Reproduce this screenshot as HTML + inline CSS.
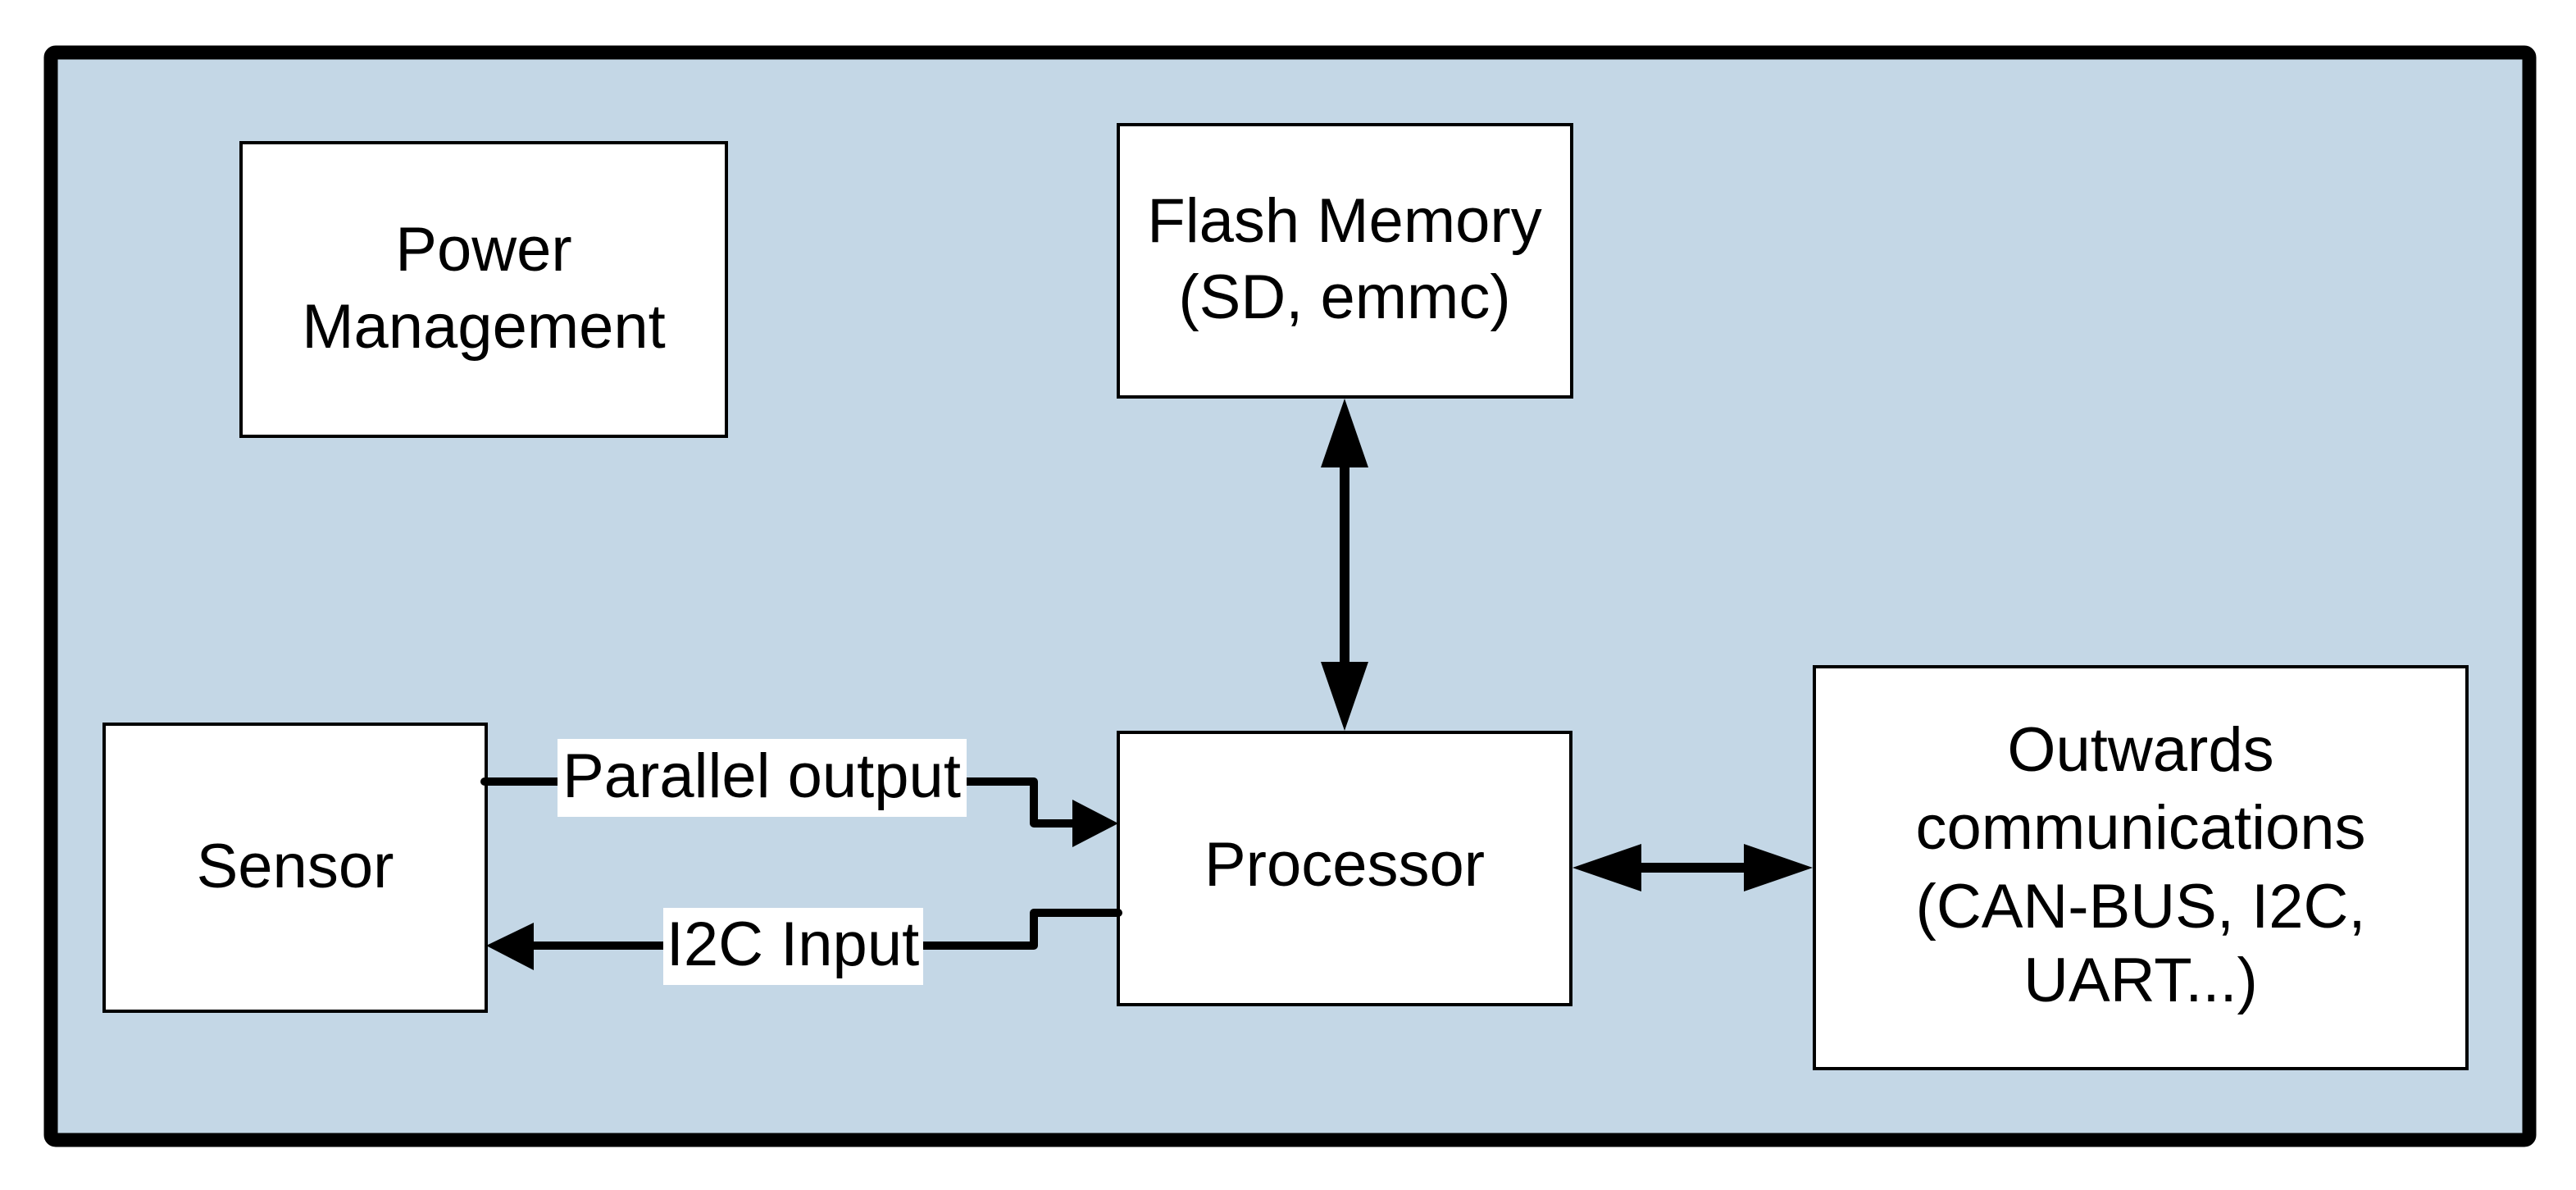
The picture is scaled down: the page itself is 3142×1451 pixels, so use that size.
<!DOCTYPE html>
<html><head><meta charset="utf-8"><style>
html,body{margin:0;padding:0;background:#fff;}
svg{display:block;}
text{font-family:"Liberation Sans",Arial,sans-serif;font-size:76px;fill:#000;}
</style></head><body>
<svg width="3142" height="1451" viewBox="0 0 3142 1451" xmlns="http://www.w3.org/2000/svg">
<rect x="62" y="64" width="3023" height="1326" rx="6" fill="#c4d7e6" stroke="#000" stroke-width="17"/>
<g fill="#fff" stroke="#000" stroke-width="4">
<rect x="294" y="174" width="592" height="358"/>
<rect x="1364" y="152" width="553" height="332"/>
<rect x="1364" y="893" width="552" height="332"/>
<rect x="127" y="883" width="466" height="350"/>
<rect x="2213" y="813" width="796" height="490"/>
</g>
<g text-anchor="middle">
<text x="590" y="330">Power</text>
<text x="590" y="424">Management</text>
<text x="1640" y="295">Flash Memory</text>
<text x="1640" y="388">(SD, emmc)</text>
<text x="1640" y="1080">Processor</text>
<text x="360" y="1082">Sensor</text>
<text x="2611" y="940">Outwards</text>
<text x="2611" y="1035">communications</text>
<text x="2611" y="1131">(CAN-BUS, I2C,</text>
<text x="2611" y="1221">UART...)</text>
</g>
<!-- vertical arrow -->
<line x1="1640" y1="560" x2="1640" y2="820" stroke="#000" stroke-width="12"/>
<polygon points="1640,486 1611,570 1669,570" fill="#000"/>
<polygon points="1640,891 1611,807 1669,807" fill="#000"/>
<!-- horizontal arrow -->
<line x1="1990" y1="1058" x2="2140" y2="1058" stroke="#000" stroke-width="12"/>
<polygon points="1918,1058 2002,1029 2002,1087" fill="#000"/>
<polygon points="2211,1058 2127,1029 2127,1087" fill="#000"/>
<!-- parallel -->
<polyline points="591,953 1261,953 1261,1004 1320,1004" fill="none" stroke="#000" stroke-width="10" stroke-linejoin="round" stroke-linecap="round"/>
<polygon points="1364,1004 1308,975 1308,1033" fill="#000"/>
<rect x="680" y="901" width="499" height="95" fill="#fff"/>
<text x="929" y="972" text-anchor="middle">Parallel output</text>
<!-- I2C -->
<polyline points="1364,1113 1261,1113 1261,1153 640,1153" fill="none" stroke="#000" stroke-width="10" stroke-linejoin="round" stroke-linecap="round"/>
<polygon points="593,1153 651,1125 651,1183" fill="#000"/>
<rect x="809" y="1107" width="317" height="94" fill="#fff"/>
<text x="967" y="1177" text-anchor="middle">I2C Input</text>
</svg>
</body></html>
